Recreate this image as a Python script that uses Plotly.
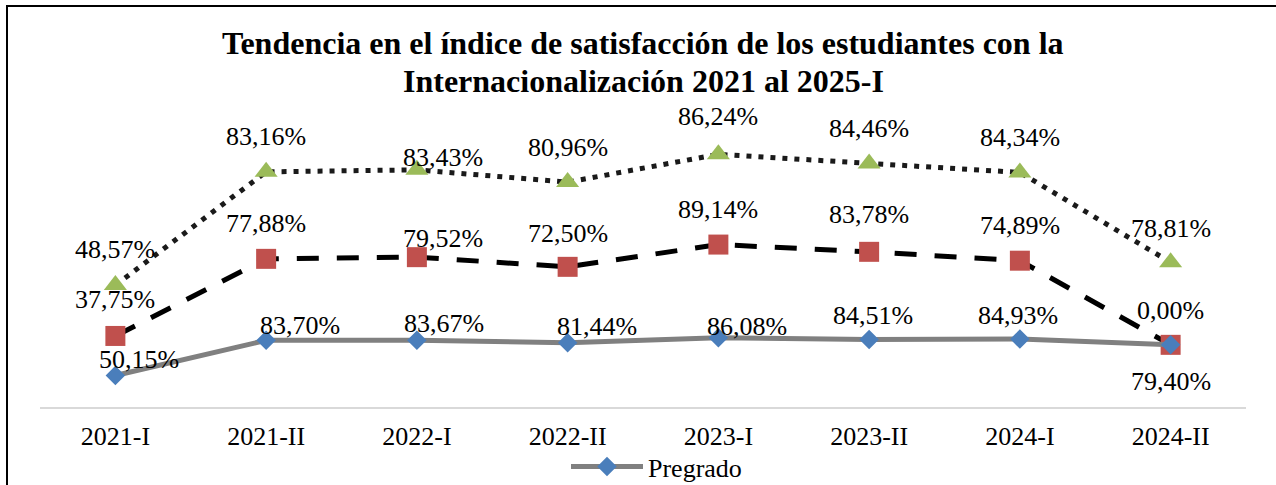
import numpy as np
import plotly.graph_objects as go

# ---- data ----
categories = ["2021-I", "2021-II", "2022-I", "2022-II", "2023-I", "2023-II", "2024-I", "2024-II"]
pregrado = [50.15, 83.70, 83.67, 81.44, 86.08, 84.51, 84.93, 79.40]
serie2 = [37.75, 77.88, 79.52, 72.50, 89.14, 83.78, 74.89, 0.00]
serie3 = [48.57, 83.16, 83.43, 80.96, 86.24, 84.46, 84.34, 78.81]

title_line1 = "Tendencia en el índice de satisfacción de los estudiantes con la"
title_line2 = "Internacionalización 2021 al 2025-I"

# label offsets (pixels) relative to the points
pre_dx = [24, 34, 27, 29, 29, 4, -2, 0]
pre_dy = [-16, -15, -17, -16, -11, -24, -24, 37]
s2_dx = [0, 0, 26, 0, 0, 0, 0, 0]
s2_dy = [-36, -35, -19, -33, -35, -37, -35, -34]
s3_dx = [0, 0, 26, 0, 0, 0, 0, 0]
s3_dy = [-36, -35, -12, -35, -38, -35, -35, -34]

# stacked line values
c1 = np.array(pregrado)
c2 = c1 + np.array(serie2)
c3 = c2 + np.array(serie3)

FONT = "Liberation Serif"
W, HT = 1276, 485

fig = go.Figure()
fig.add_trace(go.Scatter(
    x=categories, y=c3, mode="lines+markers", name="Serie 3", showlegend=False,
    line=dict(color="#1a1a1a", width=5, dash="5px,7px"),
    marker=dict(symbol="triangle-up", size=20, color="#9BBB59"),
))
fig.add_trace(go.Scatter(
    x=categories, y=c2, mode="lines+markers", name="Serie 2", showlegend=False,
    line=dict(color="#000000", width=5, dash="22px,18px"),
    marker=dict(symbol="square", size=20, color="#C0504D"),
))
fig.add_trace(go.Scatter(
    x=categories, y=c1, mode="lines+markers", name="Pregrado",
    line=dict(color="#808080", width=5),
    marker=dict(symbol="diamond", size=15, color="#4A7EBB"),
))

def fmt(v):
    return f"{v:.2f}".replace(".", ",") + "%"

annotations = []
for vals, cum, dxs, dys in [(pregrado, c1, pre_dx, pre_dy), (serie2, c2, s2_dx, s2_dy), (serie3, c3, s3_dx, s3_dy)]:
    for i, cat in enumerate(categories):
        annotations.append(dict(
            x=cat, y=cum[i], xref="x", yref="y", text=fmt(vals[i]), showarrow=False,
            xshift=dxs[i], yshift=-dys[i], xanchor="center", yanchor="middle",
            font=dict(family=FONT, size=26, color="#000000"),
        ))

H_TOP = 114
H_BOT = 407.3
ph = H_BOT - H_TOP

def py(pix):
    return (H_BOT - pix) / ph

def px(pix):
    return (pix - 40) / 1206

annotations.append(dict(x=0.5, y=py(43), xref="paper", yref="paper", text=f"<b>{title_line1}</b>",
                        showarrow=False, xanchor="center", yanchor="middle",
                        font=dict(family=FONT, size=32, color="#000000")))
annotations.append(dict(x=0.5, y=py(81), xref="paper", yref="paper", text=f"<b>{title_line2}</b>",
                        showarrow=False, xanchor="center", yanchor="middle",
                        font=dict(family=FONT, size=32, color="#000000")))

shapes = [
    dict(type="line", xref="paper", yref="paper", x0=px(7), x1=px(7), y0=py(520), y1=py(6),
         line=dict(color="#000000", width=2)),
    dict(type="line", xref="paper", yref="paper", x0=px(6), x1=px(1290), y0=py(6), y1=py(6),
         line=dict(color="#000000", width=2)),
]

fig.update_layout(
    width=W, height=HT,
    margin=dict(l=40, r=30, t=H_TOP, b=HT - H_BOT, pad=0, autoexpand=False),
    paper_bgcolor="#ffffff", plot_bgcolor="#ffffff",
    font=dict(family=FONT, size=26, color="#000000"),
    xaxis=dict(type="category", range=[-0.5, 7.5], showgrid=False, zeroline=False,
               showline=True, linecolor="#D9D9D9", linewidth=2, ticks="", automargin=False,
               ticklabelstandoff=5,
               tickfont=dict(family=FONT, size=26, color="#000000")),
    yaxis=dict(range=[20, 300], visible=False, showgrid=False, zeroline=False),
    showlegend=True,
    legend=dict(orientation="h", x=px(566), xanchor="left", y=py(467), yanchor="middle",
                itemwidth=72,
                font=dict(family=FONT, size=26, color="#000000"), bgcolor="rgba(0,0,0,0)"),
    annotations=annotations,
    shapes=shapes,
)

post = "document.body.style.margin='0';document.body.style.overflow='hidden';"
fig.write_html("out.html", config={"displayModeBar": False}, post_script=post)
